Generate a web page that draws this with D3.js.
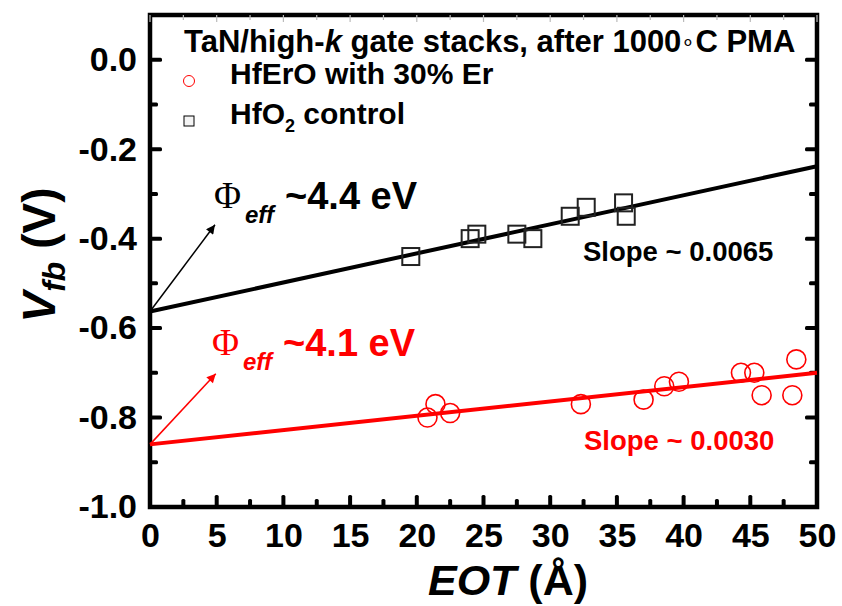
<!DOCTYPE html>
<html><head><meta charset="utf-8">
<script src="https://cdn.jsdelivr.net/npm/d3@7"></script>
<style>
body{margin:0;background:#fff;}
svg{display:block;font-family:Arial,"Liberation Sans",sans-serif;}
</style></head>
<body><svg id="c" width="842" height="606"></svg>
<script>
// ---- data ----
const hfo2EOT = [19.55, 24.0, 24.5, 27.5, 28.7, 31.5, 32.7, 35.5, 35.7];
const hfo2Vfb = [-0.44, -0.40, -0.39, -0.39, -0.40, -0.35, -0.33, -0.32, -0.35];
const hferoEOT = [20.8, 21.4, 22.5, 32.3, 37.0, 38.55, 39.65, 44.3, 45.3, 45.85, 48.15, 48.45];
const hferoVfb = [-0.80, -0.77, -0.79, -0.77, -0.76, -0.73, -0.72, -0.70, -0.70, -0.75, -0.75, -0.67];
const fitEOT = [0, 50];
const hfo2Fit = [-0.563, -0.238];
const hferoFit = [-0.86, -0.70];
const arrowHfO2 = [[0, -0.563], [4.87, -0.369]];
const arrowHfErO = [[0, -0.86], [4.93, -0.702]];
const xMajor = [0, 5, 10, 15, 20, 25, 30, 35, 40, 45, 50];
const xMinor = [2.5, 7.5, 12.5, 17.5, 22.5, 27.5, 32.5, 37.5, 42.5, 47.5];
const yMajor = [0.0, -0.2, -0.4, -0.6, -0.8, -1.0];
const yMinor = [-0.1, -0.3, -0.5, -0.7, -0.9];
const yLabels = ["0.0", "-0.2", "-0.4", "-0.6", "-0.8", "-1.0"];

// ---- layout ----
const L = 150, R = 817, T = 15, B = 507;
const svg = d3.select("#c");
const x = d3.scaleLinear().domain([0, 50]).range([L, R]);
const y = d3.scaleLinear().domain([-1.0, 0.1]).range([B, T]);
const black = "#000", red = "#ff0000";

// axes labels via d3 axes
function styleAxis(g){
  g.select(".domain").remove();
  g.selectAll(".tick line").remove();
  g.selectAll("text").attr("fill", black).attr("font-size", 34).attr("font-weight", "bold");
}
svg.append("g").attr("transform", `translate(0,${B})`)
  .call(d3.axisBottom(x).tickValues(xMajor).tickSize(0).tickPadding(16).tickFormat(d3.format("d")))
  .call(styleAxis);
svg.append("g").attr("transform", `translate(${L},0)`)
  .call(d3.axisLeft(y).tickValues(yMajor).tickSize(0).tickPadding(13).tickFormat((d, i) => yLabels[i]))
  .call(styleAxis);

// frame (as path)
svg.append("path")
  .attr("d", `M${L},${T}H${R}V${B}H${L}Z`)
  .attr("fill", "none").attr("stroke", black).attr("stroke-width", 4.5).attr("stroke-linejoin", "miter");

// inward ticks drawn as filled rectangles
const tickRects = [];
xMajor.forEach(v => tickRects.push({cx: x(v), cy: B - 6, w: 4, h: 12}));
xMinor.forEach(v => tickRects.push({cx: x(v), cy: B - 4, w: 4, h: 8}));
yMajor.forEach(v => { tickRects.push({cx: L + 6, cy: y(v), w: 12, h: 4}); tickRects.push({cx: R - 6, cy: y(v), w: 12, h: 4}); });
yMinor.forEach(v => { tickRects.push({cx: L + 4, cy: y(v), w: 8, h: 4}); tickRects.push({cx: R - 4, cy: y(v), w: 8, h: 4}); });
svg.append("g").selectAll("rect").data(tickRects).join("rect")
  .attr("x", d => d.cx - d.w / 2).attr("y", d => d.cy - d.h / 2)
  .attr("width", d => d.w).attr("height", d => d.h)
  .attr("rx", 1.5).attr("fill", black);
const topTicks = [];
xMajor.forEach(v => topTicks.push({cx: x(v), h: 7}));
xMinor.forEach(v => topTicks.push({cx: x(v), h: 5}));
svg.append("g").selectAll("rect").data(topTicks).join("rect")
  .attr("x", d => d.cx - 0.6).attr("y", T).attr("width", 1.2).attr("height", d => d.h)
  .attr("fill", "#bbb");

// fit lines
const line = d3.line().x(d => x(d[0])).y(d => y(d[1]));
svg.append("path").datum(fitEOT.map((e, i) => [e, hfo2Fit[i]]))
  .attr("d", line).attr("stroke", black).attr("stroke-width", 4).attr("fill", "none");
svg.append("path").datum(fitEOT.map((e, i) => [e, hferoFit[i]]))
  .attr("d", line).attr("stroke", red).attr("stroke-width", 4).attr("fill", "none");

// markers
svg.append("g").selectAll("rect").data(hfo2EOT.map((e, i) => [e, hfo2Vfb[i]])).join("rect")
  .attr("x", d => x(d[0]) - 8.5).attr("y", d => y(d[1]) - 8.5)
  .attr("width", 17).attr("height", 17)
  .attr("fill", "none").attr("stroke", "#222").attr("stroke-width", 2);
svg.append("g").selectAll("circle").data(hferoEOT.map((e, i) => [e, hferoVfb[i]])).join("circle")
  .attr("cx", d => x(d[0])).attr("cy", d => y(d[1])).attr("r", 9.5)
  .attr("fill", "none").attr("stroke", red).attr("stroke-width", 1.6);

// arrows
const defs = svg.append("defs");
[["ahB", black], ["ahR", red]].forEach(([id, c]) => {
  defs.append("marker").attr("id", id).attr("viewBox", "0 0 10 10")
    .attr("refX", 10).attr("refY", 5).attr("markerWidth", 11).attr("markerHeight", 9)
    .attr("markerUnits", "userSpaceOnUse").attr("orient", "auto")
    .append("path").attr("d", "M0,0 L10,5 L0,10 Z").attr("fill", c);
});
svg.append("path").datum(arrowHfO2).attr("d", line).attr("stroke", black)
  .attr("stroke-width", 1.5).attr("marker-end", "url(#ahB)");
svg.append("path").datum(arrowHfErO).attr("d", line).attr("stroke", red)
  .attr("stroke-width", 1.5).attr("marker-end", "url(#ahR)");

// Phi labels
function phiLabel(px, py, val, color){
  const g = svg.append("g").attr("fill", color);
  g.append("text").attr("x", px).attr("y", py)
    .attr("font-family", "'Liberation Serif','Times New Roman',serif").attr("font-size", 37).text("Φ");
  g.append("text").attr("x", px + 31).attr("y", py + 15)
    .attr("font-size", 24).attr("font-weight", "bold").attr("font-style", "italic").text("eff");
  g.append("text").attr("x", px + 71).attr("y", py + 1)
    .attr("font-size", 38).attr("font-weight", "bold").text("~" + val + " eV");
}
phiLabel(214, 208, "4.4", black);
phiLabel(212, 355, "4.1", red);

// slope labels
svg.append("text").attr("x", 583).attr("y", 261).attr("font-size", 27.5).attr("font-weight", "bold")
  .attr("fill", black).text("Slope ~ 0.0065");
svg.append("text").attr("x", 584).attr("y", 450).attr("font-size", 27.5).attr("font-weight", "bold")
  .attr("fill", red).text("Slope ~ 0.0030");

// legend
const lt = svg.append("text").attr("x", 184).attr("y", 52).attr("font-size", 31).attr("font-weight", "bold");
lt.append("tspan").text("TaN/high-");
lt.append("tspan").attr("font-style", "italic").text("k");
lt.append("tspan").text(" gate stacks, after 1000");
lt.append("tspan").attr("font-size", 22).attr("font-weight", "normal").attr("dy", -3).text("\u2218");
lt.append("tspan").attr("dy", 3).text("C PMA");
svg.append("circle").attr("cx", 189).attr("cy", 81).attr("r", 5.5).attr("fill", "none").attr("stroke", red).attr("stroke-width", 1);
svg.append("text").attr("x", 230).attr("y", 84).attr("font-size", 30).attr("font-weight", "bold").text("HfErO with 30% Er");
svg.append("rect").attr("x", 184).attr("y", 116).attr("width", 10).attr("height", 10).attr("fill", "#f4f4f4").attr("stroke", black).attr("stroke-width", 1);
const l2 = svg.append("text").attr("x", 230).attr("y", 124).attr("font-size", 30).attr("font-weight", "bold");
l2.append("tspan").text("HfO");
l2.append("tspan").attr("font-size", 18).attr("dy", 8).text("2");
l2.append("tspan").attr("dy", -8).text(" control");

// axis titles
const xt = svg.append("text").attr("x", 508).attr("y", 595).attr("text-anchor", "middle")
  .attr("font-size", 43).attr("font-weight", "bold");
xt.append("tspan").attr("font-style", "italic").text("EOT");
xt.append("tspan").text(" (Å)");
const yt = svg.append("text").attr("transform", "translate(55,255) rotate(-90)").attr("text-anchor", "middle")
  .attr("font-size", 46).attr("font-weight", "bold");
yt.append("tspan").attr("font-style", "italic").text("V");
yt.append("tspan").attr("font-style", "italic").attr("font-size", 32).attr("dy", 10).text("fb");
yt.append("tspan").attr("dy", -10).text(" (V)");
</script></body></html>
